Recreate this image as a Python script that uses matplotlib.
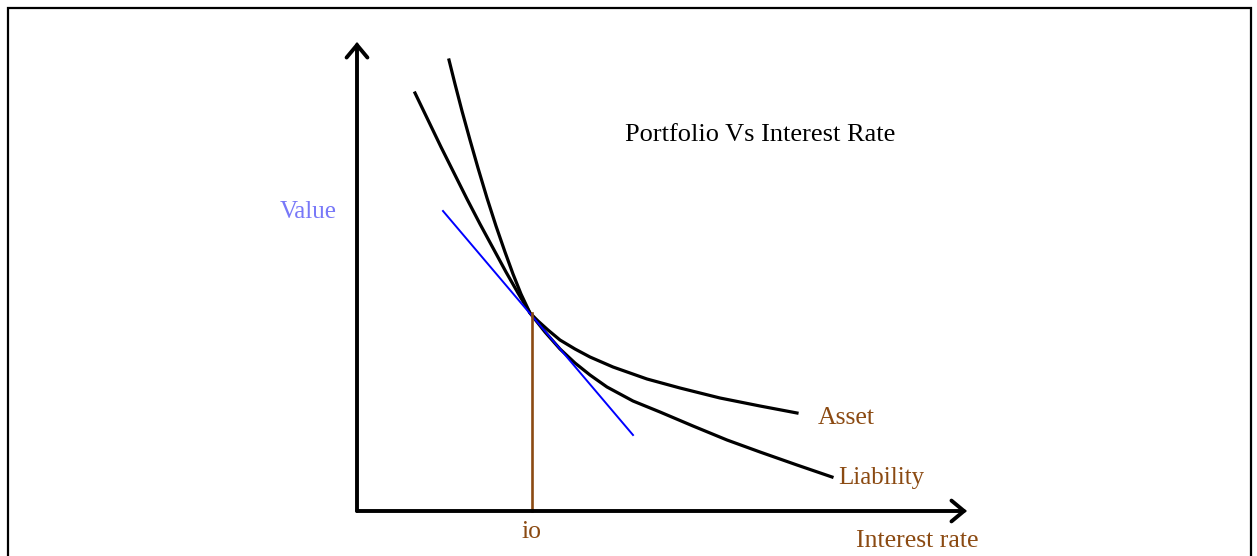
import matplotlib
matplotlib.use("Agg")
import matplotlib.pyplot as plt
from matplotlib.patches import Rectangle

# Curves (interest rate, value)
asset_x = [0.92, 0.98, 1.05, 1.13, 1.21, 1.30, 1.39, 1.48, 1.56, 1.64, 1.73,
           1.81, 1.91, 2.03, 2.18, 2.33, 2.56, 2.90, 3.23, 3.63, 4.03, 4.40]
asset_y = [4.51, 4.27, 4.00, 3.71, 3.43, 3.13, 2.85, 2.59, 2.37, 2.17, 1.98,
           1.90, 1.81, 1.71, 1.62, 1.54, 1.44, 1.32, 1.23, 1.13, 1.05, 0.98]

liab_x = [0.58, 0.71, 0.84, 0.97, 1.10, 1.23, 1.36, 1.49, 1.61, 1.73, 1.88,
          2.03, 2.18, 2.33, 2.50, 2.76, 3.03, 3.36, 3.70, 4.03, 4.40, 4.75]
liab_y = [4.18, 3.91, 3.64, 3.38, 3.12, 2.87, 2.63, 2.39, 2.18, 1.98, 1.79,
          1.62, 1.48, 1.36, 1.24, 1.10, 0.99, 0.85, 0.71, 0.59, 0.46, 0.34]

tangent_x = [0.86, 2.76]
tangent_y = [3.00, 0.76]

i0 = 1.75
v0 = 1.98

x_axis_end = 6.10
y_axis_end = 4.69

brown = "#8B4A12"
serif = ["Liberation Serif", "DejaVu Serif"]

fig = plt.figure(figsize=(12.57, 5.56), dpi=100)
ax = fig.add_axes([0, 0, 1, 1])
ax.set_xlim(-3.57, 9.0)
ax.set_ylim(-0.45, 5.11)
ax.axis("off")

# Frame round the picture (bottom edge cut off)
fig.patches.append(Rectangle((8 / 1257, -0.1), 1243 / 1257, 1.1 - 8 / 556,
                             transform=fig.transFigure, fill=False,
                             edgecolor="black", linewidth=1.6))

# Axes with open arrow heads
arrow = dict(arrowstyle="->,head_length=0.9,head_width=0.75", color="black",
             linewidth=2.8, shrinkA=0, shrinkB=0, joinstyle="miter")
ax.annotate("", xy=(0, y_axis_end), xytext=(0, 0), arrowprops=arrow)
ax.annotate("", xy=(x_axis_end, 0), xytext=(0, 0), arrowprops=arrow)

# Curves
ax.plot(asset_x, asset_y, color="black", linewidth=2.3, solid_joinstyle="round")
ax.plot(liab_x, liab_y, color="black", linewidth=2.3, solid_joinstyle="round")
ax.plot(tangent_x, tangent_y, color="#0000ff", linewidth=1.4)
ax.plot([i0, i0], [0, v0], color=brown, linewidth=1.9)

# Labels
ax.text(4.03, 3.76, "Portfolio Vs Interest Rate", fontsize=19, family=serif,
        color="black", ha="center", va="center")
ax.text(-0.49, 2.99, "Value", fontsize=18, family=serif, color="#7878f8",
        ha="center", va="center")
ax.text(4.61, 0.93, "Asset", fontsize=18.5, family=serif, color=brown,
        ha="left", va="center")
ax.text(4.81, 0.33, "Liability", fontsize=18, family=serif, color=brown,
        ha="left", va="center")
ax.text(i0, -0.21, "io", fontsize=18.5, family=serif, color=brown,
        ha="center", va="center")
ax.text(4.99, -0.30, "Interest rate", fontsize=18.5, family=serif, color=brown,
        ha="left", va="center")

fig.savefig("out.png", dpi=100)
